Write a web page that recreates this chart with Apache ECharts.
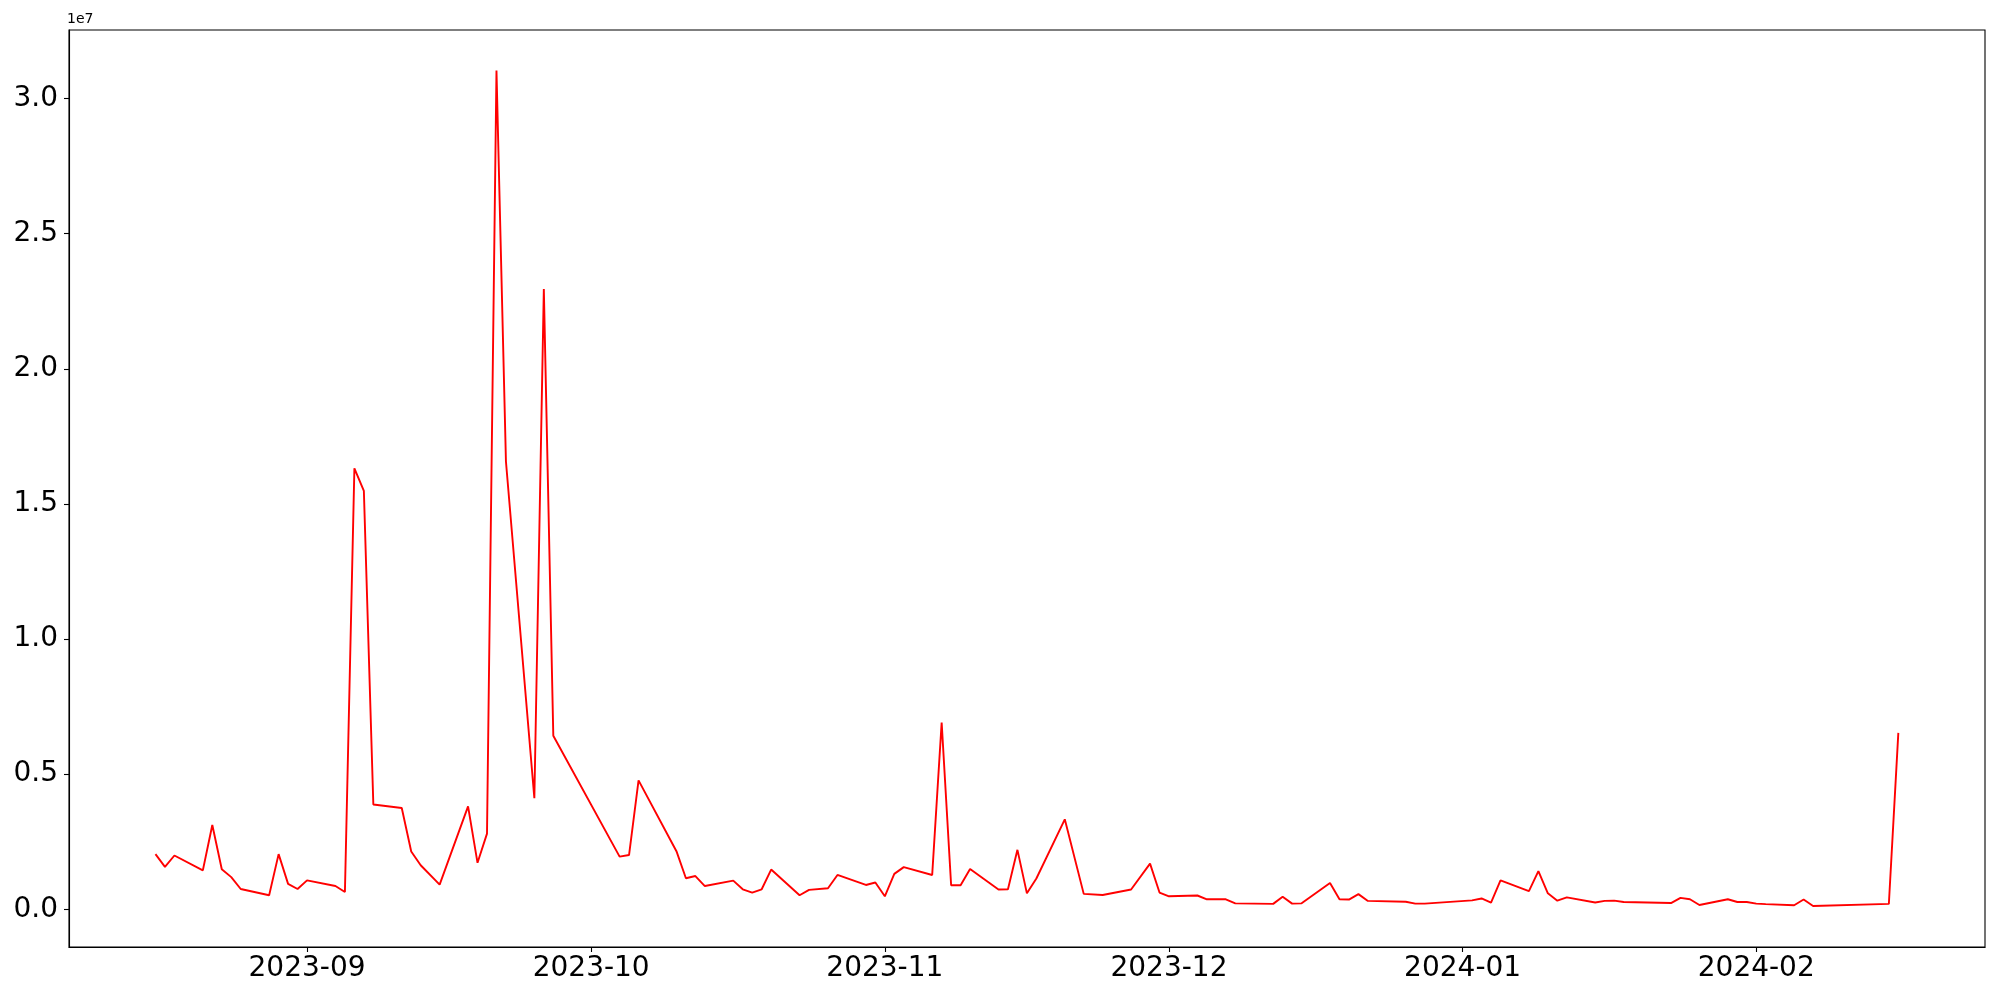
<!DOCTYPE html>
<html>
<head>
<meta charset="utf-8">
<script src="https://cdn.jsdelivr.net/npm/echarts@6/dist/echarts.min.js"></script>
<style>
html,body{margin:0;padding:0;background:#fff;}
#main{width:2000px;height:1000px;}
</style>
</head>
<body>
<div id="main"></div>
<script>
// ---- data ----
const dates = [
"2023-08-16","2023-08-17","2023-08-18","2023-08-21","2023-08-22","2023-08-23","2023-08-24","2023-08-25",
"2023-08-28","2023-08-29","2023-08-30","2023-08-31","2023-09-01","2023-09-04","2023-09-05","2023-09-06",
"2023-09-07","2023-09-08","2023-09-11","2023-09-12","2023-09-13","2023-09-15","2023-09-18","2023-09-19",
"2023-09-20","2023-09-21","2023-09-22","2023-09-25","2023-09-26","2023-09-27","2023-10-04","2023-10-05",
"2023-10-06","2023-10-10","2023-10-11","2023-10-12","2023-10-13","2023-10-16","2023-10-17","2023-10-18",
"2023-10-19","2023-10-20","2023-10-23","2023-10-24","2023-10-26","2023-10-27","2023-10-30","2023-10-31",
"2023-11-01","2023-11-02","2023-11-03","2023-11-06","2023-11-07","2023-11-08","2023-11-09","2023-11-10",
"2023-11-13","2023-11-14","2023-11-15","2023-11-16","2023-11-17","2023-11-20","2023-11-22","2023-11-24",
"2023-11-27","2023-11-29","2023-11-30","2023-12-01","2023-12-04","2023-12-05","2023-12-07","2023-12-08",
"2023-12-12","2023-12-13","2023-12-14","2023-12-15","2023-12-18","2023-12-19","2023-12-20","2023-12-21",
"2023-12-22","2023-12-26","2023-12-27","2023-12-28","2024-01-02","2024-01-03","2024-01-04","2024-01-05",
"2024-01-08","2024-01-09","2024-01-10","2024-01-11","2024-01-12","2024-01-15","2024-01-16","2024-01-17",
"2024-01-18","2024-01-23","2024-01-24","2024-01-25","2024-01-26","2024-01-29","2024-01-30","2024-01-31",
"2024-02-01","2024-02-02","2024-02-05","2024-02-06","2024-02-07","2024-02-15","2024-02-16"
];
const values = [
2040000,1570000,1990000,1440000,3120000,1480000,1190000,750000,
520000,2040000,940000,750000,1070000,860000,640000,16320000,
15480000,3880000,3750000,2140000,1630000,910000,3810000,1720000,
2800000,31040000,16570000,4110000,22950000,6420000,1950000,2010000,
4770000,2150000,1150000,1230000,860000,1060000,740000,620000,
740000,1470000,520000,720000,780000,1270000,900000,990000,
480000,1310000,1560000,1270000,6910000,890000,890000,1490000,
730000,740000,2200000,590000,1140000,3330000,570000,530000,
730000,1690000,620000,480000,510000,370000,370000,220000,
200000,460000,210000,220000,970000,370000,360000,560000,
310000,280000,210000,210000,330000,400000,250000,1070000,
670000,1410000,590000,320000,440000,250000,310000,320000,
270000,230000,420000,370000,160000,370000,270000,270000,
210000,190000,150000,360000,120000,200000,6530000
];
const xTickLabels = ["2023-09","2023-10","2023-11","2023-12","2024-01","2024-02"];
const yTickValues = [0, 5000000, 10000000, 15000000, 20000000, 25000000, 30000000];
const yTickLabels = ["0.0","0.5","1.0","1.5","2.0","2.5","3.0"];

// ---- helpers ----
const DAY = 86400000;
function dayNum(s){ const p=s.split('-').map(Number); return Date.UTC(p[0], p[1]-1, p[2]||1)/DAY; }
const xTicks = xTickLabels.map(dayNum);
const seriesData = dates.map((d,i)=>[dayNum(d), values[i]]);
const base = dayNum("2023-09-01");
const xMin = base - 25.13;
const xMax = base + 177.15;

const chart = echarts.init(document.getElementById('main'), null, {renderer:'canvas'});
const font = 'DejaVu Sans';
chart.setOption({
  animation:false,
  backgroundColor:'#fff',
  grid:{left:69, right:15, top:30, bottom:53, show:true, borderColor:'#000', borderWidth:1.1, containLabel:false},
  xAxis:{
    type:'value', min:xMin, max:xMax,
    axisLine:{show:true, onZero:false, lineStyle:{color:'#000', width:1.1}},
    axisTick:{show:true, length:5, inside:false, lineStyle:{color:'#000', width:1.1}, customValues:xTicks},
    axisLabel:{show:true, margin:8, fontFamily:font, fontSize:28, color:'#000', customValues:xTicks,
      formatter:function(v){ const i=xTicks.indexOf(v); return i>=0 ? xTickLabels[i] : ''; },
      showMinLabel:true, showMaxLabel:true, hideOverlap:false},
    splitLine:{show:false}
  },
  yAxis:{
    type:'value', min:-1396000, max:32540000,
    name:'1e7', nameLocation:'end', nameGap:4,
    nameTextStyle:{fontFamily:font, fontSize:14, color:'#000', align:'left', verticalAlign:'bottom', padding:[0,0,0,-2]},
    axisLine:{show:true, onZero:false, lineStyle:{color:'#000', width:1.1}},
    axisTick:{show:true, length:5, inside:false, lineStyle:{color:'#000', width:1.1}, customValues:yTickValues},
    axisLabel:{show:true, margin:11, fontFamily:font, fontSize:28, color:'#000', customValues:yTickValues,
      formatter:function(v){ const i=yTickValues.indexOf(v); return i>=0? yTickLabels[i] : ''; },
      showMinLabel:true, showMaxLabel:true},
    splitLine:{show:false}
  },
  series:[{
    type:'line', data:seriesData, showSymbol:false, symbol:'none',
    lineStyle:{color:'#ff0000', width:1.9}, itemStyle:{color:'#ff0000'},
    smooth:false
  }]
});
</script>
</body>
</html>
